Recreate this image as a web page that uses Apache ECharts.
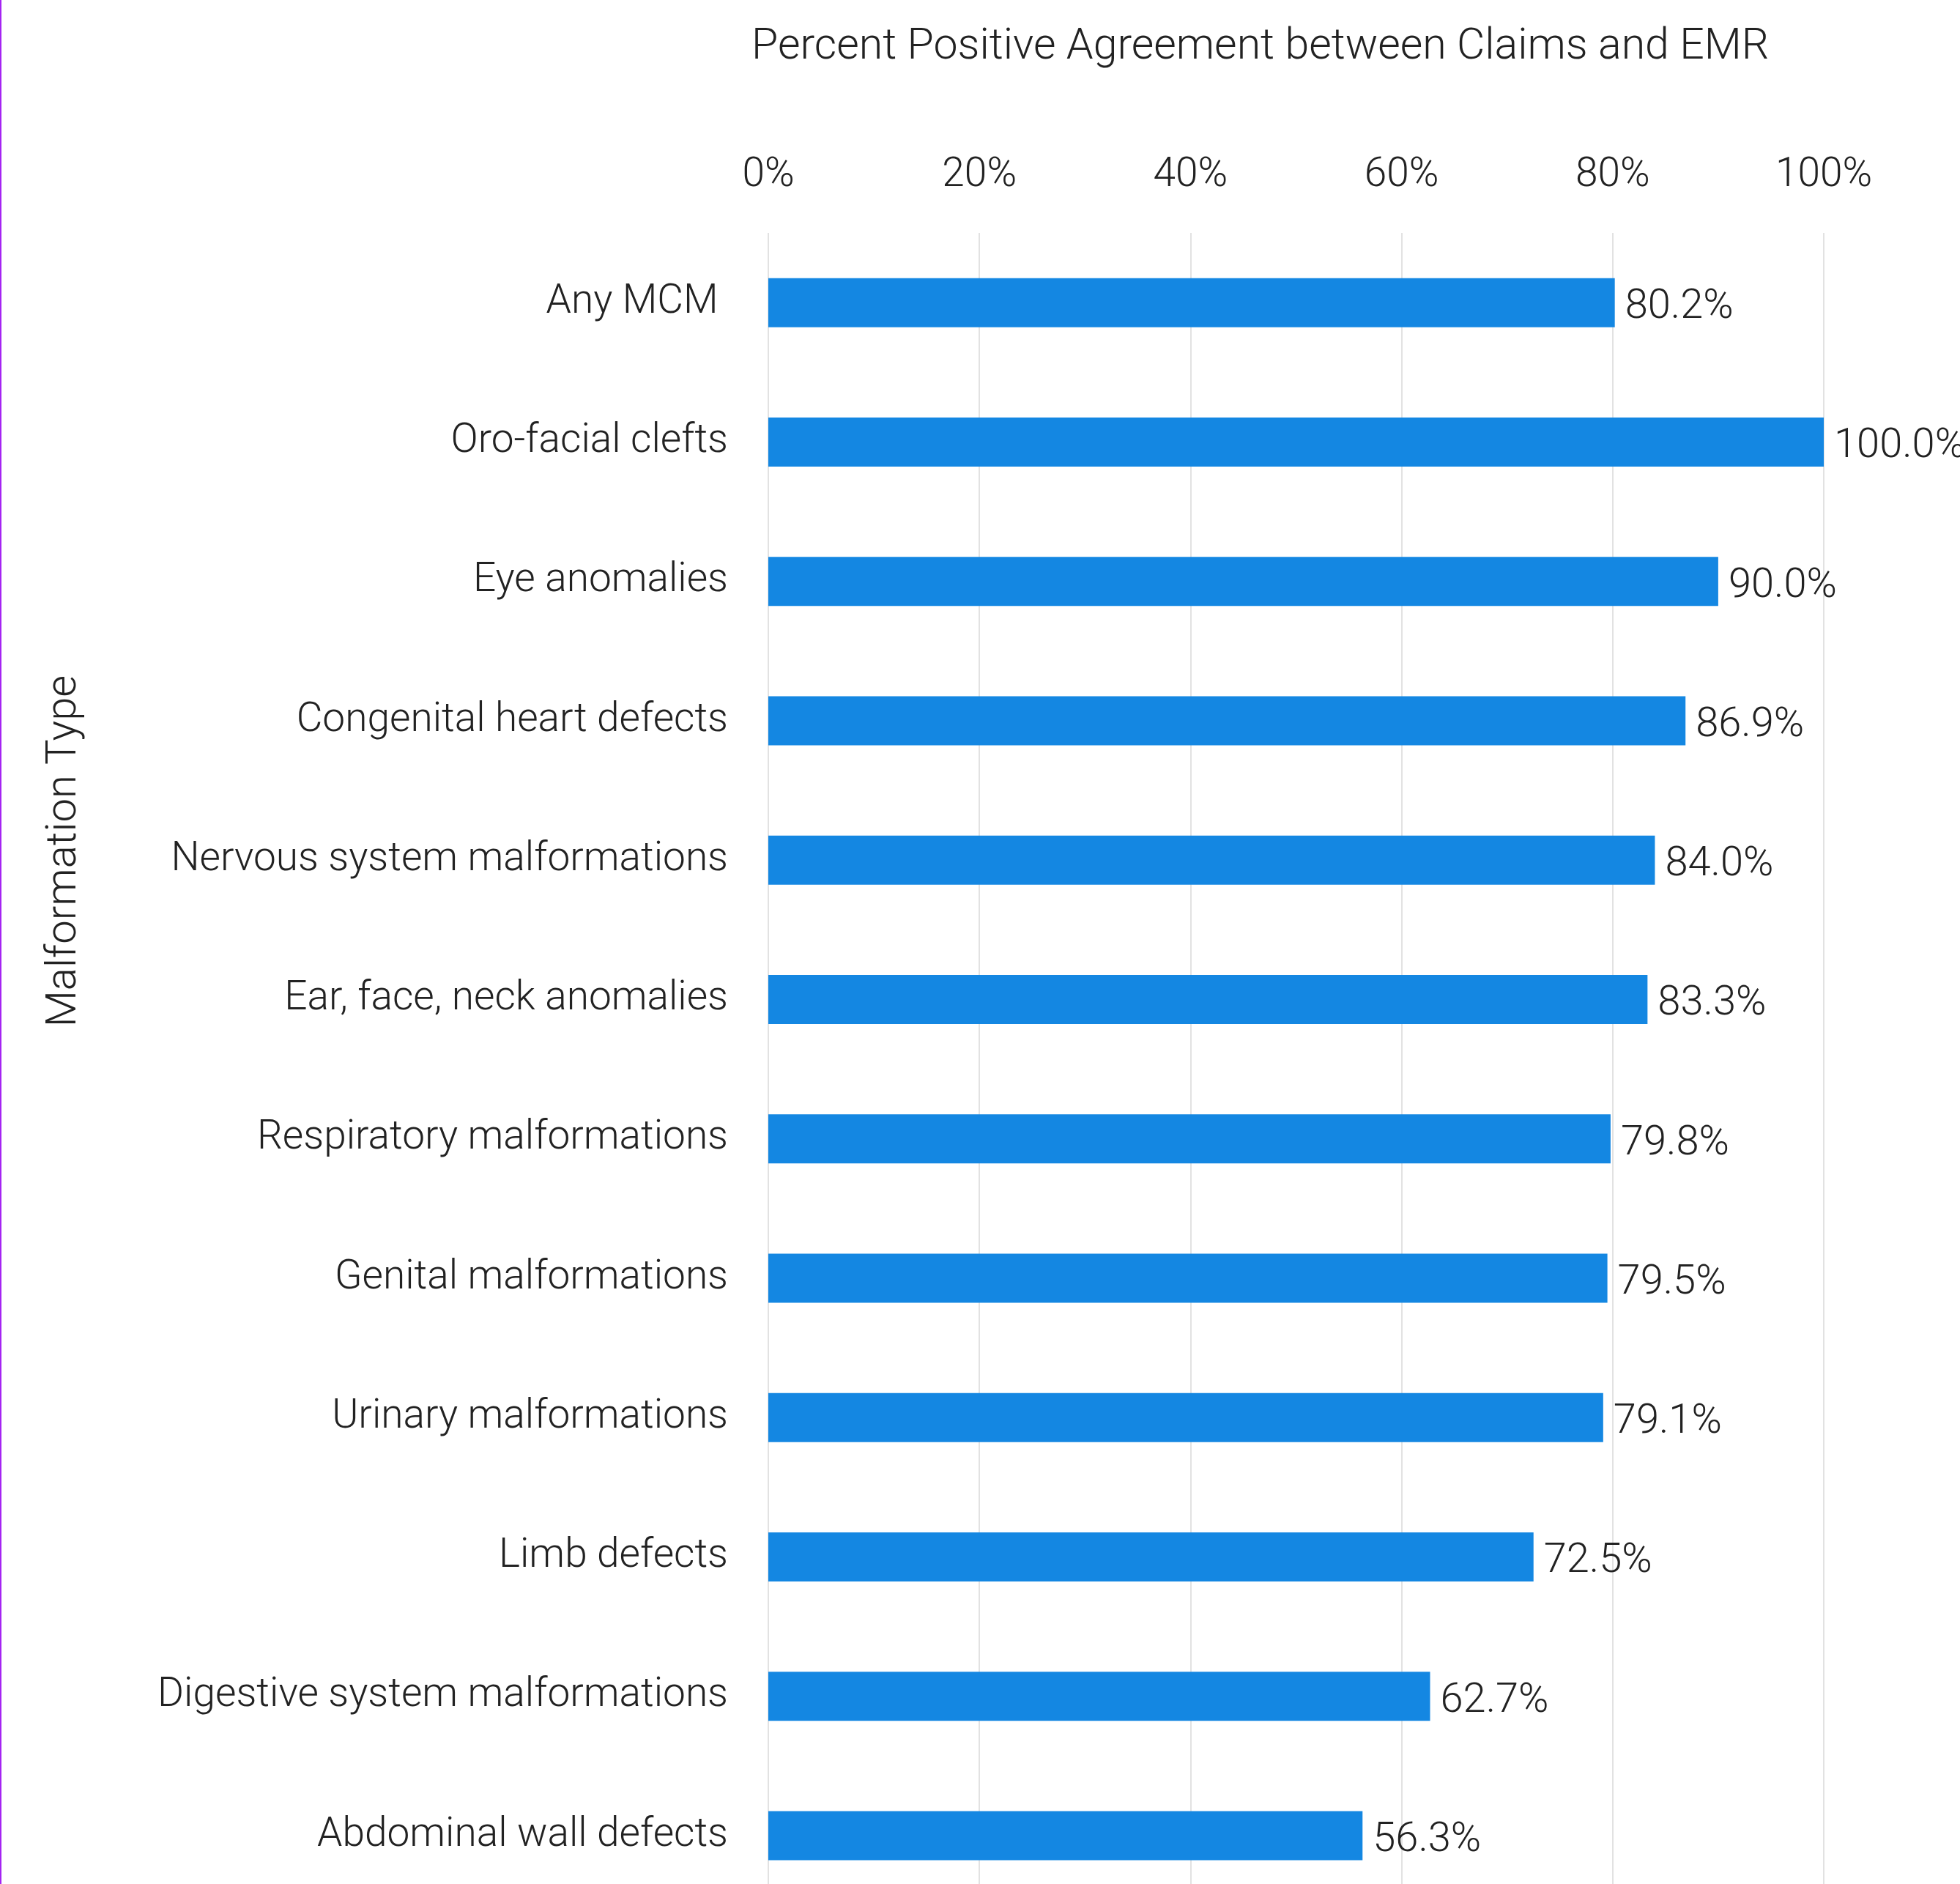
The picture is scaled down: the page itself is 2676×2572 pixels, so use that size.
<!DOCTYPE html>
<html>
<head>
<meta charset="utf-8">
<script src="https://cdn.jsdelivr.net/npm/echarts@6/dist/echarts.min.js"></script>
<style>
  html, body { margin: 0; padding: 0; background: #fff; }
  #edge { position: absolute; left: 0; top: 0; width: 2px; height: 2572px; background: #a524f2; z-index: 2; }
  #chart { width: 2676px; height: 2572px; }
</style>
</head>
<body>
<div id="edge"></div>
<div id="chart"></div>
<script>
// malformation types, top to bottom
const categories = [
  'Any MCM ',
  'Oro-facial clefts',
  'Eye anomalies',
  'Congenital heart defects',
  'Nervous system malformations',
  'Ear, face, neck anomalies',
  'Respiratory malformations',
  'Genital malformations',
  'Urinary malformations',
  'Limb defects',
  'Digestive system malformations',
  'Abdominal wall defects',
]
// percent positive agreement
const values = [80.2, 100.0, 90.0, 86.9, 84.0, 83.3, 79.8, 79.5, 79.1, 72.5, 62.7, 56.3]

const titleText = 'Percent Positive Agreement between Claims and EMR'
const yAxisTitle = 'Malformation Type'

const font = 'Roboto'
const weight = 300
const textColor = '#222222'

const chart = echarts.init(document.getElementById('chart'))

chart.setOption({
  animation: false,
  title: {
    text: titleText,
    left: 1021,
    top: 31,
    textStyle: {
      fontFamily: font,
      fontWeight: weight,
      fontSize: 59,
      color: textColor,
    },
  },
  graphic: [
    {
      type: 'text',
      x: 88,
      y: 1162,
      rotation: Math.PI / 2,
      style: {
        text: yAxisTitle,
        fontFamily: font,
        fontWeight: weight,
        fontSize: 58,
        fill: textColor,
        textAlign: 'center',
        textVerticalAlign: 'middle',
      },
    },
  ],
  grid: {
    left: 1049,
    right: 186,
    top: 318,
    height: 2283,
    outerBoundsMode: 'none',
  },
  xAxis: {
    type: 'value',
    position: 'top',
    min: 0,
    max: 100,
    interval: 20,
    axisLine: { show: false },
    axisTick: { show: false },
    axisLabel: {
      formatter: '{value}%',
      margin: 50,
      fontFamily: font,
      fontWeight: weight,
      fontSize: 55,
      color: textColor,
    },
    splitLine: {
      lineStyle: {
        color: '#e2e2e2',
        width: 2,
      },
    },
  },
  yAxis: {
    type: 'category',
    inverse: true,
    data: categories,
    axisLine: { show: false },
    axisTick: { show: false },
    axisLabel: {
      margin: 55,
      padding: [10, 0, 0, 0],
      fontFamily: font,
      fontWeight: weight,
      fontSize: 55,
      color: textColor,
    },
  },
  series: [
    {
      type: 'bar',
      data: values,
      barWidth: 67,
      itemStyle: {
        color: '#1487e2',
      },
      label: {
        show: true,
        position: 'right',
        distance: 14,
        offset: [0, 7],
        fontFamily: font,
        fontWeight: weight,
        fontSize: 56,
        color: textColor,
        formatter: (p) => p.value.toFixed(1) + '%',
      },
    },
  ],
})
</script>
</body>
</html>
